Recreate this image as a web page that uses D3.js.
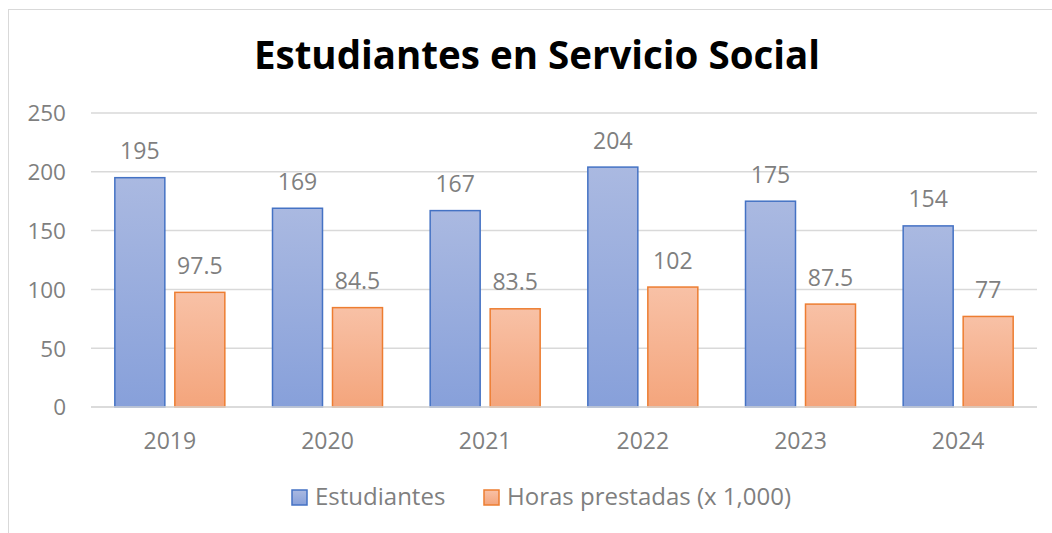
<!DOCTYPE html>
<html>
<head>
<meta charset="utf-8">
<script src="https://cdn.jsdelivr.net/npm/d3@7"></script>
<style>
  body { margin: 0; background: #fff; }
  text { font-family: "Open Sans", "Noto Sans", sans-serif; }
</style>
</head>
<body>
<script>
// chart data
const years = ['2019', '2020', '2021', '2022', '2023', '2024'];
const estudiantes = [195, 169, 167, 204, 175, 154];
const horas = [97.5, 84.5, 83.5, 102, 87.5, 77];
const seriesNames = ['Estudiantes', 'Horas prestadas (x 1,000)'];
const yTicks = [0, 50, 100, 150, 200, 250];

const width = 1052;
const height = 533;
const margin = { top: 113, right: 15, bottom: 126, left: 91 };

const svg = d3.select('body')
  .append('svg')
  .attr('width', width)
  .attr('height', height);

// gradients for the bars
const defs = svg.append('defs');
const grads = [
  { id: 'gBlue', top: '#aab9e1', bottom: '#87a0da' },
  { id: 'gOrange', top: '#f8c1a6', bottom: '#f4a57c' }
];
grads.forEach(g => {
  const lg = defs.append('linearGradient')
    .attr('id', g.id).attr('x1', 0).attr('y1', 0).attr('x2', 0).attr('y2', 1);
  lg.append('stop').attr('offset', '0%').attr('stop-color', g.top);
  lg.append('stop').attr('offset', '100%').attr('stop-color', g.bottom);
});
const fills = ['url(#gBlue)', 'url(#gOrange)'];
const strokes = ['#4472c4', '#ed7d31'];

// chart area border
svg.append('rect')
  .attr('x', 8.5).attr('y', 9.5)
  .attr('width', 1060).attr('height', 560)
  .attr('fill', 'none')
  .attr('stroke', '#d9d9d9')
  .attr('stroke-width', 1);

// title
svg.append('text')
  .attr('x', 537).attr('y', 69)
  .attr('text-anchor', 'middle')
  .style('font-size', '38.5px')
  .style('font-weight', 'bold')
  .style('fill', '#000')
  .text('Estudiantes en Servicio Social');

const x = d3.scaleBand()
  .domain(years)
  .range([margin.left, width - margin.right]);

const y = d3.scaleLinear()
  .domain([0, 250])
  .range([407, margin.top]);

// gridlines
svg.append('g')
  .selectAll('line')
  .data(yTicks)
  .join('line')
  .attr('x1', margin.left).attr('x2', width - margin.right)
  .attr('y1', d => y(d)).attr('y2', d => y(d))
  .attr('stroke', '#d9d9d9')
  .attr('stroke-width', 1.5);

// y axis labels
const yAxis = d3.axisLeft(y).tickValues(yTicks).tickSize(0).tickPadding(0);
svg.append('g')
  .attr('transform', `translate(66,0)`)
  .call(yAxis)
  .call(g => g.select('.domain').remove())
  .call(g => g.selectAll('text')
    .attr('dy', '0.35em')
    .style('font-size', '22.5px')
    .style('font-family', '"Open Sans", sans-serif')
    .style('fill', '#7f7f7f'));

// bars
const barW = 50, gap = 10;
const offset = (x.bandwidth() - 2 * barW - gap) / 2;
const series = [estudiantes, horas];

series.forEach((vals, s) => {
  const g = svg.append('g');
  g.selectAll('rect')
    .data(vals)
    .join('rect')
    .attr('x', (d, i) => x(years[i]) + offset + s * (barW + gap))
    .attr('y', d => y(d))
    .attr('width', barW)
    .attr('height', d => y(0) - y(d))
    .attr('fill', fills[s])
    .attr('stroke', strokes[s])
    .attr('stroke-width', 1.5);

  g.selectAll('text')
    .data(vals)
    .join('text')
    .attr('x', (d, i) => x(years[i]) + offset + s * (barW + gap) + barW / 2)
    .attr('y', d => y(d) - 18.5)
    .attr('text-anchor', 'middle')
    .style('font-size', '23px')
    .style('fill', '#7f7f7f')
    .text(d => d);
});

// baseline
svg.append('line')
  .attr('x1', margin.left).attr('x2', width - margin.right)
  .attr('y1', y(0)).attr('y2', y(0))
  .attr('stroke', '#d9d9d9')
  .attr('stroke-width', 1.5);

// x axis labels
const xAxis = d3.axisBottom(x).tickSize(0).tickPadding(0);
svg.append('g')
  .attr('transform', `translate(0,${y(0)})`)
  .call(xAxis)
  .call(g => g.select('.domain').remove())
  .call(g => g.selectAll('text')
    .attr('y', 42).attr('dy', 0)
    .style('font-size', '23px')
    .style('font-family', '"Open Sans", sans-serif')
    .style('fill', '#7f7f7f'));

// legend
const legendX = [292, 484];
const legend = svg.append('g');
seriesNames.forEach((name, s) => {
  legend.append('rect')
    .attr('x', legendX[s]).attr('y', 490)
    .attr('width', 15).attr('height', 15)
    .attr('fill', fills[s])
    .attr('stroke', strokes[s])
    .attr('stroke-width', 1.5);
  legend.append('text')
    .attr('x', legendX[s] + 23).attr('y', 505)
    .style('font-size', '24px')
    .style('fill', '#7f7f7f')
    .text(name);
});
</script>
</body>
</html>
